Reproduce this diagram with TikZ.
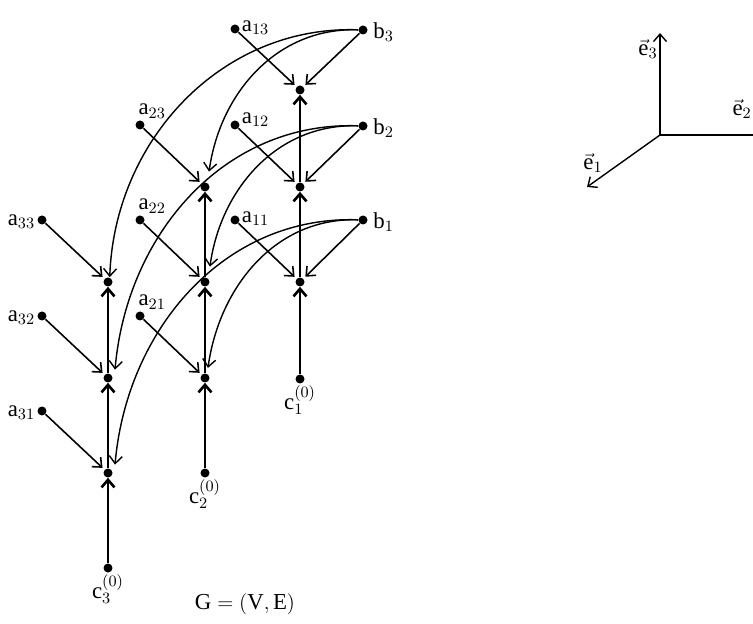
\documentclass[tikz,border=0pt]{standalone}
\usepackage{fontspec}
\setmainfont{Liberation Serif}
\setmathrm{Liberation Serif}
\usepackage{tikz}
\usetikzlibrary{positioning,arrows.meta}

\begin{document}
\begin{tikzpicture}[
    x=0.02cm, y=-0.02cm,
    font=\fontsize{13}{15}\selectfont,
    dot/.style={circle, fill, inner sep=0pt, minimum size=1.8mm},
    lbl/.style={inner sep=1pt, label distance=0pt},
    arrow/.style={-{Straight Barb[length=1.5mm,width=2.6mm]}, line width=0.9pt, shorten >=1.5pt},
    upward/.style={-{Straight Barb[length=1.5mm,width=2.6mm]}, line width=1.5pt},
    curve/.style={-{Straight Barb[length=1.5mm,width=2.6mm]}, line width=0.8pt},
    axis/.style={-{Straight Barb[length=1.5mm,width=2.6mm]}, line width=0.8pt}
]
\useasboundingbox (0,0) rectangle (753,624);
\clip (0,0) rectangle (753,624);

% inputs b_j
\node[dot, label={[lbl,yshift=-1pt,xshift=2pt]right:$\mathrm{b}_3$}] (b3) at (363,30) {};
\node[dot, label={[lbl,yshift=-1pt,xshift=2pt]right:$\mathrm{b}_2$}] (b2) at (363,126) {};
\node[dot, label={[lbl,yshift=-1pt,xshift=2pt]right:$\mathrm{b}_1$}] (b1) at (363,220) {};

% inner nodes
\node[dot] (v13) at (300,90) {};
\node[dot] (v12) at (300,187) {};
\node[dot] (v11) at (300,282) {};
\node[dot] (v23) at (205,187) {};
\node[dot] (v22) at (205,282) {};
\node[dot] (v21) at (205,378) {};
\node[dot] (v33) at (108,282) {};
\node[dot] (v32) at (108,378) {};
\node[dot] (v31) at (108,473) {};

% start values
\node[dot, label={[lbl]below:$\mathrm{c}_1^{(0)}$}] (c1) at (300,379) {};
\node[dot, label={[lbl]below:$\mathrm{c}_2^{(0)}$}] (c2) at (205,473) {};
\node[dot, label={[lbl]below:$\mathrm{c}_3^{(0)}$}] (c3) at (108,568) {};

% inputs a_ij
\node[dot, label={[lbl,yshift=1pt]right:$\mathrm{a}_{13}$}] (a13) at (235,29) {};
\node[dot, label={[lbl,yshift=3pt]right:$\mathrm{a}_{12}$}] (a12) at (235,125) {};
\node[dot, label={[lbl,yshift=1pt]right:$\mathrm{a}_{11}$}] (a11) at (235,220) {};
\node[dot, label={[lbl,anchor=south west,xshift=-2pt]above:$\mathrm{a}_{23}$}] (a23) at (140,125) {};
\node[dot, label={[lbl,anchor=south west,xshift=-2pt]above:$\mathrm{a}_{22}$}] (a22) at (140,220) {};
\node[dot, label={[lbl,anchor=south west,xshift=-2pt]above:$\mathrm{a}_{21}$}] (a21) at (140,316) {};
\node[dot, label={[lbl,yshift=-1pt]left:$\mathrm{a}_{33}$}] (a33) at (42,220) {};
\node[dot, label={[lbl,yshift=-1pt]left:$\mathrm{a}_{32}$}] (a32) at (42,316) {};
\node[dot, label={[lbl,yshift=-1pt]left:$\mathrm{a}_{31}$}] (a31) at (42,411) {};

% chains
\draw[upward] (c1) -- (v11);
\draw[upward] (v11) -- (v12);
\draw[upward] (v12) -- (v13);
\draw[upward] (c2) -- (v21);
\draw[upward] (v21) -- (v22);
\draw[upward] (v22) -- (v23);
\draw[upward] (c3) -- (v31);
\draw[upward] (v31) -- (v32);
\draw[upward] (v32) -- (v33);

% a edges
\draw[arrow] (a13) -- (v13);
\draw[arrow] (a12) -- (v12);
\draw[arrow] (a11) -- (v11);
\draw[arrow] (a23) -- (v23);
\draw[arrow] (a22) -- (v22);
\draw[arrow] (a21) -- (v21);
\draw[arrow] (a33) -- (v33);
\draw[arrow] (a32) -- (v32);
\draw[arrow] (a31) -- (v31);

% b edges
\draw[arrow] (b3) -- (v13);
\draw[arrow] (b2) -- (v12);
\draw[arrow] (b1) -- (v11);
\draw[curve] (b3) to[out=178,in=82] ([xshift=2.3pt,yshift=6pt]v23.north);
\draw[curve] (b3) to[out=178,in=88] ([xshift=1pt]v33.north);
\draw[curve] (b2) to[out=178,in=82] ([xshift=2.8pt,yshift=6pt]v22.north);
\draw[curve] (b2) to[out=178,in=85] ([xshift=4pt,yshift=2pt]v32.north);
\draw[curve] (b1) to[out=178,in=82] ([xshift=1.7pt,yshift=3pt]v21.north);
\draw[curve] (b1) to[out=178,in=85] ([xshift=4pt,yshift=2pt]v31.north);

% basis
\coordinate (o) at (660,135);
\coordinate (e1) at (587,187);
\coordinate (e2) at (775,135);
\coordinate (e3) at (660,33);
\draw[axis] (o) -- (e1);
\draw[axis] (o) -- (e2);
\draw[axis] (o) -- (e3);
\node[inner sep=0pt] (l1) at (593,163) {$\vec{\mathrm{e}}_1$};
\node[inner sep=0pt, anchor=east] (l2) at (752,109) {$\vec{\mathrm{e}}_2$};
\node[inner sep=0pt] (l3) at (648,49) {$\vec{\mathrm{e}}_3$};

\node (graph) at (245,604) {$\mathrm{G}=\left(\mathrm{V},\mathrm{E}\right)$};

\end{tikzpicture}
\end{document}
